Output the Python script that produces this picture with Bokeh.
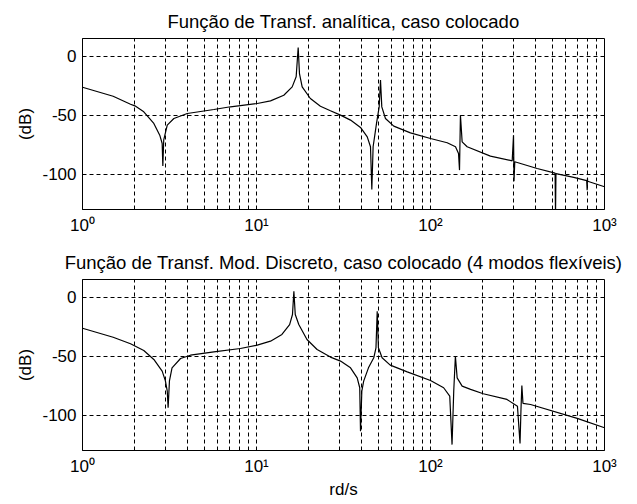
from bokeh.plotting import figure
from bokeh.layouts import column
from bokeh.models import FixedTicker, Range1d
from bokeh.embed import file_html
from bokeh.resources import INLINE

# ---- data ----
top_w = [1, 1.5, 1.888, 2, 2.25, 2.57, 2.78, 2.87, 2.895, 2.93, 3.07, 3.35, 4.0, 5.69, 7.09,
         10.1, 12.04, 14.35, 16.04, 16.9, 17.36, 17.66, 18.3, 20.4, 23.3, 26.6, 30.4, 34.7,
         39.6, 43.3, 45.2, 46.0, 46.8, 48.95, 50.7, 51.6, 52.5, 55.1, 61.5, 76.7, 100, 124.7,
         139.2, 144.9, 146.8, 148.6, 152, 162.4, 221, 294.8, 300, 302, 305, 410, 520, 523,
         526, 666, 790, 795, 798, 800, 1000]
top_db = [-26.3, -34, -40.7, -42.1, -47.2, -57, -67, -74, -93.2, -71, -58.5, -52.8, -48.6, -45.2, -42.9,
          -40.1, -37.9, -33.1, -26, -17.5, 7.3, -14.7, -26, -35.9, -42.4, -46.3, -50, -54.2,
          -60.4, -68.4, -76.8, -113, -76.8, -57, -43, -20.3, -43, -52.8, -59.3, -65, -69.8, -73.4,
          -76.8, -82.5, -96.6, -50, -72.6, -76.8, -84.7, -88.7, -67, -106, -89.5, -95.2, -99.2, -135,
          -99.6, -102.8, -105.5, -113.6, -103.6, -106, -110.7]

bot_w = [1, 1.5, 1.888, 2.25, 2.57, 2.87, 2.995, 3.07, 3.105, 3.16, 3.27, 3.66, 4.17, 5.69, 8.08,
         10.1, 12.04, 14.0, 15.5, 16.1, 16.4, 16.7, 17.5, 19.5, 22.3, 26.6, 30.4, 34.7, 37.9,
         39.2, 39.6, 40.3, 41.3, 44.0, 47.2, 48.6, 49.4, 50.2, 52.7, 58.7, 73.5, 100, 119, 129,
         133, 136, 139, 142.3, 152, 170, 201, 275, 316, 327, 331, 335, 340, 376, 697, 1000]
bot_db = [-26.3, -34, -39.5, -45.2, -52.8, -62.7, -71, -79.7, -93.8, -71, -59.9, -52, -49.2, -46.3, -43.5,
          -40.7, -37.3, -31.6, -23.2, -14.7, 5.1, -14.7, -23.2, -35.9, -44.4, -50.8, -54.2, -59.9, -68.4,
          -76.8, -113.6, -79.7, -71.2, -59.9, -51.4, -42.9, -11.9, -42.9, -51.4, -57.6, -63.3, -70.6, -76.8, -83.9,
          -125, -79.7, -50, -68.4, -75.4, -78.2, -81.9, -86.7, -92.4, -124, -96, -75, -90, -91, -102.8, -110.7]

x_major = [1, 10, 100, 1000]
x_minor = [2, 3, 4, 5, 6, 7, 8, 9, 20, 30, 40, 50, 60, 70, 80, 90, 200, 300, 400, 500, 600, 700, 800, 900]
x_labels = {1: "10\u2070", 10: "10\u00b9", 100: "10\u00b2", 1000: "10\u00b3"}
y_ticks = [-100, -50, 0]
y_labels = {-100: "-100", -50: "-50", 0: "0"}

titles = ["Fun\u00e7\u00e3o de Transf. anal\u00edtica, caso colocado",
          "Fun\u00e7\u00e3o de Transf. Mod. Discreto, caso colocado (4 modos flex\u00edveis)"]

FONT = "Liberation Sans"


def make_fig(w, db, title, height, top, xlabel=None):
    p = figure(x_axis_type="log", output_backend="svg", toolbar_location=None,
               width=629, height=height, frame_width=522, frame_height=171,
               min_border_left=82, min_border_right=25, min_border_top=top,
               min_border_bottom=height - top - 171,
               x_range=Range1d(1, 1000), y_range=Range1d(-130, 15))
    p.title.text = title
    p.title.align = "center"
    p.title.text_font = FONT
    p.title.text_font_size = "18.5px"
    p.title.text_font_style = "normal"
    p.title.text_color = "black"
    p.title.standoff = 14

    p.line(w, db, line_color="black", line_width=1.2)

    p.xaxis.ticker = FixedTicker(ticks=x_major, minor_ticks=x_minor)
    p.xaxis.major_label_overrides = x_labels
    p.yaxis.ticker = FixedTicker(ticks=y_ticks)
    p.yaxis.major_label_overrides = y_labels
    for ax in (p.xaxis[0], p.yaxis[0]):
        ax.major_label_text_font = FONT
        ax.major_label_text_font_size = "17px"
        ax.major_label_text_color = "black"
        ax.major_tick_out = 0
        ax.major_tick_in = 0
        ax.minor_tick_out = 0
        ax.minor_tick_in = 0
        ax.axis_line_color = "black"
        ax.axis_label_text_font = FONT
        ax.axis_label_text_font_size = "17px"
        ax.axis_label_text_font_style = "normal"
        ax.axis_label_text_color = "black"
    p.xaxis.major_label_standoff = 6
    p.yaxis.major_label_standoff = 6
    p.yaxis.axis_label = "(dB)"
    p.yaxis.axis_label_standoff = 4
    if xlabel:
        p.xaxis.axis_label = xlabel
        p.xaxis.axis_label_standoff = 1

    p.xgrid.grid_line_color = "black"
    p.xgrid.grid_line_dash = "4 3"
    p.xgrid.grid_line_width = 1
    p.xgrid.minor_grid_line_color = "black"
    p.xgrid.minor_grid_line_dash = "4 3"
    p.xgrid.minor_grid_line_width = 1
    p.ygrid.grid_line_color = "black"
    p.ygrid.grid_line_dash = "4 3"
    p.ygrid.grid_line_width = 1

    p.outline_line_color = "black"
    p.outline_line_width = 1
    p.outline_line_alpha = 1
    p.background_fill_color = "white"
    p.border_fill_color = "white"
    return p


p1 = make_fig(top_w, top_db, titles[0], 241, 38)
p2 = make_fig(bot_w, bot_db, titles[1], 258, 38, xlabel="rd/s")
layout = column(p1, p2, spacing=0)

open("out.html", "w").write(file_html(layout, INLINE))
